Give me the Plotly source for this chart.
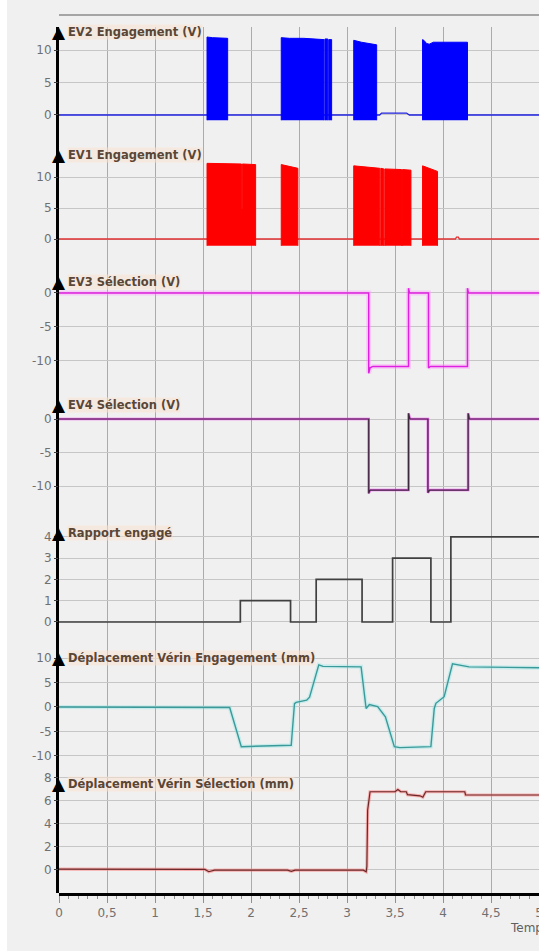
import plotly.graph_objects as go

# ---------------- data (time in s) ----------------
X_TICKS = [0, 0.5, 1, 1.5, 2, 2.5, 3, 3.5, 4, 4.5, 5]

TITLES = ["EV2 Engagement (V)", "EV1 Engagement (V)", "EV3 Sélection (V)",
          "EV4 Sélection (V)", "Rapport engagé",
          "Déplacement Vérin Engagement (mm)", "Déplacement Vérin Sélection (mm)"]

# EV2 PWM blocks : envelope of the high level
EV2_BLOCK_T = [[1.542, 1.60, 1.757],
               [2.315, 2.40, 2.55, 2.76], [2.77, 2.80], [2.81, 2.84],
               [3.070, 3.15, 3.309],
               [3.787, 3.80, 3.83, 3.857, 3.90, 4.255]]
EV2_BLOCK_V = [[12.0, 11.9, 11.8],
               [11.9, 11.8, 11.8, 11.6], [11.7, 11.7], [11.6, 11.6],
               [11.5, 11.2, 10.8],
               [11.6, 11.5, 11.0, 10.9, 11.2, 11.2]]
EV2_LOW = -0.8
EV2_BASE_T = [0, 3.34, 3.36, 3.62, 3.65, 5.0]
EV2_BASE_V = [0, 0, 0.3, 0.3, 0, 0]

# EV1 PWM blocks
EV1_BLOCK_T = [[1.542, 1.90, 1.90, 1.91, 1.91, 2.048],
               [2.315, 2.488],
               [3.070, 3.342], [3.352, 3.384], [3.394, 3.568], [3.578, 3.666],
               [3.787, 3.943]]
EV1_BLOCK_V = [[12.2, 12.1, 4.9, 4.9, 12.1, 12.0],
               [12.0, 11.4],
               [11.8, 11.4], [11.4, 11.3], [11.3, 11.2], [11.2, 11.1],
               [11.8, 10.9]]
EV1_LOW = -1.1
EV1_BASE_T = [0, 4.13, 4.14, 4.16, 4.17, 5.0]
EV1_BASE_V = [0, 0, 0.3, 0.3, 0, 0]

EV3_T = [0, 3.226, 3.226, 3.24, 3.27, 3.641, 3.641, 3.65, 3.849, 3.849, 3.87, 4.255, 4.255, 4.265, 5.0]
EV3_V = [0, 0, -11.8, -11.0, -10.8, -10.8, 0.7, 0, 0, -11.0, -10.8, -10.8, 0.7, 0, 0]

EV4_T = [0, 3.226, 3.226, 3.24, 3.641, 3.641, 3.655, 3.843, 3.843, 3.86, 4.262, 4.262, 4.275, 5.0]
EV4_V = [0, 0, -11.1, -10.6, -10.6, 0.85, 0, 0, -11.0, -10.6, -10.6, 0.85, 0, 0]

RAP_T = [0, 1.889, 2.412, 2.679, 3.157, 3.475, 3.874, 4.082, 5.0]
RAP_V = [0, 1, 0, 2, 0, 3, 0, 4, 4]

DVE_T = [0, 1.497, 1.55, 1.778, 1.899, 2.10, 2.419, 2.453, 2.47, 2.58, 2.61, 2.706, 2.75,
         3.147, 3.199, 3.233, 3.319, 3.40, 3.493, 3.55, 3.874, 3.909, 3.926, 4.012, 4.099,
         4.272, 4.6, 5.0]
DVE_V = [0, 0, -0.1, -0.1, -8.1, -8.0, -7.8, 0.7, 0.95, 1.4, 2.0, 8.6, 8.3,
         8.2, -0.3, 0.5, 0.1, -2.0, -8.1, -8.3, -8.1, -0.3, 0.75, 2.1, 8.8,
         8.2, 8.1, 8.0]

DVS_T = [0, 1.10, 1.52, 1.56, 1.62, 2.38, 2.42, 2.46, 3.17, 3.20, 3.207, 3.215, 3.24,
         3.50, 3.53, 3.56, 3.618, 3.63, 3.76, 3.79, 3.82, 4.227, 4.235, 5.0]
DVS_V = [0.08, 0.08, 0.05, -0.15, -0.02, -0.02, -0.12, -0.02, -0.02, -0.15, 0.3, 5.2, 6.8,
         6.8, 7.0, 6.8, 6.8, 6.55, 6.45, 6.33, 6.8, 6.8, 6.52, 6.52]

X_TICKTEXT = ["0", "0,5", "1", "1,5", "2", "2,5", "3", "3,5", "4", "4,5", "5"]
Y_TICKS = [[0, 5, 10], [0, 5, 10], [-10, -5, 0], [-10, -5, 0],
           [0, 1, 2, 3, 4], [-10, -5, 0, 5, 10], [0, 2, 4, 6, 8]]
Y_TICKTEXT = [["0", "5", "10"], ["0", "5", "10"], ["-10", "-5", "0"], ["-10", "-5", "0"],
              ["0", "1", "2", "3", "4"], ["-10", "-5", "0", "5", "10"], ["0", "2", "4", "6", "8"]]
Y_RANGES = [[-4.31, 13.08], [-5.0, 13.87], [-14.71, 1.91], [-15.22, 2.39],
            [-1.13, 4.28], [-13.27, 10.41], [-2.0, 8.17]]

# ---------------- layout geometry (pixels) ----------------
W, H = 539, 951
ML, MT, MB = 59, 15, 58
PH = H - MT - MB           # plot-area height
PANEL_PX = [(30, 143), (153, 270), (280, 393), (403, 521), (531, 646), (656, 772), (776, 893)]
MARK_PX = [32, 155, 282, 405, 533, 658, 784]


def py(p):
    return (H - MB - p) / PH


def blocks(ts_list, vs_list, low):
    xs, ys = [], []
    for ts, vs in zip(ts_list, vs_list):
        xs += [ts[0]] + ts + [ts[-1], None]
        ys += [low] + vs + [low, None]
    return xs, ys


fig = go.Figure()
# helper subplot spanning the whole height (continuous axis line + grid)
fig.add_trace(go.Scatter(x=[], y=[], xaxis="x", yaxis="y", showlegend=False))

# Panel 1 : EV2
fig.add_trace(go.Scatter(x=EV2_BASE_T, y=EV2_BASE_V, yaxis="y2", mode="lines",
                         line=dict(color="#2020e0", width=1.3)))
bx, by = blocks(EV2_BLOCK_T, EV2_BLOCK_V, EV2_LOW)
fig.add_trace(go.Scatter(x=bx, y=by, yaxis="y2", mode="lines", fill="toself",
                         fillcolor="#0000ff", line=dict(color="#0000ff", width=1)))
# Panel 2 : EV1
fig.add_trace(go.Scatter(x=EV1_BASE_T, y=EV1_BASE_V, yaxis="y3", mode="lines",
                         line=dict(color="#e03030", width=1.3)))
bx, by = blocks(EV1_BLOCK_T, EV1_BLOCK_V, EV1_LOW)
fig.add_trace(go.Scatter(x=bx, y=by, yaxis="y3", mode="lines", fill="toself",
                         fillcolor="#ff0000", line=dict(color="#ff0000", width=1)))
# Panel 3 : EV3
fig.add_trace(go.Scatter(x=EV3_T, y=EV3_V, yaxis="y4", mode="lines",
                         line=dict(color="rgba(255,140,255,0.35)", width=5)))
fig.add_trace(go.Scatter(x=EV3_T, y=EV3_V, yaxis="y4", mode="lines",
                         line=dict(color="#e020e0", width=1.5)))
# Panel 4 : EV4
fig.add_trace(go.Scatter(x=EV4_T, y=EV4_V, yaxis="y5", mode="lines",
                         line=dict(color="rgba(240,60,240,0.8)", width=2.6)))
fig.add_trace(go.Scatter(x=EV4_T, y=EV4_V, yaxis="y5", mode="lines",
                         line=dict(color="#3c2a3c", width=1.2)))
# Panel 5 : Rapport engagé
fig.add_trace(go.Scatter(x=RAP_T, y=RAP_V, yaxis="y6", mode="lines", line_shape="hv",
                         line=dict(color="#404040", width=1.7)))
# Panel 6 : Déplacement vérin engagement
fig.add_trace(go.Scatter(x=DVE_T, y=DVE_V, yaxis="y7", mode="lines",
                         line=dict(color="rgba(130,225,225,0.35)", width=4)))
fig.add_trace(go.Scatter(x=DVE_T, y=DVE_V, yaxis="y7", mode="lines",
                         line=dict(color="#3a9a9a", width=1.4)))
# Panel 7 : Déplacement vérin sélection
fig.add_trace(go.Scatter(x=DVS_T, y=DVS_V, yaxis="y8", mode="lines",
                         line=dict(color="rgba(255,120,120,0.55)", width=3.2)))
fig.add_trace(go.Scatter(x=DVS_T, y=DVS_V, yaxis="y8", mode="lines",
                         line=dict(color="#6a2828", width=1.2)))

fig.update_traces(hoverinfo="skip", showlegend=False, xaxis="x")

tickfont = dict(family="DejaVu Sans", size=12, color="#707070")
layout = dict(
    width=W, height=H,
    margin=dict(l=ML, r=0, t=MT, b=MB, pad=0, autoexpand=False),
    paper_bgcolor="#f0f0f0", plot_bgcolor="rgba(0,0,0,0)",
    showlegend=False,
    xaxis=dict(domain=[0, 1], range=[0, 5], anchor="y8", automargin=False,
               tickmode="array", tickvals=X_TICKS, ticktext=X_TICKTEXT,
               showgrid=True, gridcolor="#ababab", gridwidth=1, zeroline=False,
               showline=True, linecolor="#000000", linewidth=3,
               ticks="outside", ticklen=7, tickcolor="#909090", tickwidth=1,
               minor=dict(dtick=0.1, tick0=0, ticks="outside", ticklen=3,
                          tickcolor="#909090", showgrid=False),
               ticklabelstandoff=0, ticklabeloverflow="allow", tickfont=tickfont),
    yaxis=dict(domain=[0, py(27)], anchor="x", range=[0, 1], showgrid=False, zeroline=False,
               automargin=False, showticklabels=False, ticks="", showline=True,
               linecolor="#000000", linewidth=3),
)
for i in range(7):
    top, bot = PANEL_PX[i]
    layout["yaxis%d" % (i + 2)] = dict(
        domain=[max(0, py(bot)), py(top)], anchor="x", range=Y_RANGES[i], automargin=False,
        tickmode="array", tickvals=Y_TICKS[i], ticktext=Y_TICKTEXT[i],
        showgrid=True, gridcolor="#c6c6c6", gridwidth=1, zeroline=False, showline=False,
        ticks="outside", ticklen=4, tickcolor="#404040", tickwidth=1,
        tickfont=tickfont)
fig.update_layout(**layout)

ann = []
for i in range(7):
    ym = py(MARK_PX[i])
    ann.append(dict(xref="paper", yref="paper", x=0, y=ym, text="▲", showarrow=False,
                    xanchor="center", yanchor="middle",
                    font=dict(family="DejaVu Sans", size=17, color="#000000")))
    ann.append(dict(xref="paper", yref="paper", x=0, y=ym, xshift=8, text="<b>%s</b>" % TITLES[i],
                    showarrow=False, xanchor="left", yanchor="middle",
                    bgcolor="rgba(250,228,210,0.55)", borderpad=0,
                    font=dict(family="DejaVu Sans", size=11.5, color="#5a4636")))
ann.append(dict(xref="paper", yref="paper", x=(508 - ML) / (W - ML), y=py(928),
                text="Temps (s)", showarrow=False, xanchor="left", yanchor="middle",
                font=dict(family="DejaVu Sans", size=12, color="#606060")))

shapes = [
    dict(type="line", xref="paper", yref="paper", x0=0, x1=1, y0=1, y1=1,
         line=dict(color="#8c8c8c", width=1.5)),
    dict(type="rect", xref="paper", yref="paper", x0=-ML / (W - ML), x1=(7 - ML) / (W - ML),
         y0=-MB / PH, y1=1 + MT / PH, fillcolor="#ffffff", line=dict(width=0), layer="below"),
]
fig.update_layout(annotations=ann, shapes=shapes)

fig.write_html("out.html", config={"displayModeBar": False},
               post_script="document.body.style.margin='0';document.body.style.overflow='hidden';")
